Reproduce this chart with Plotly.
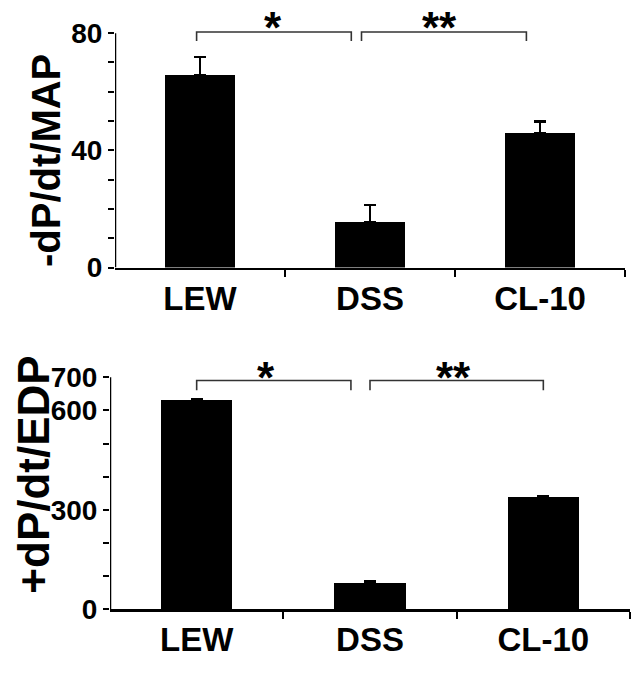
import plotly.graph_objects as go

categories = ["LEW", "DSS", "CL-10"]

# top panel: -dP/dt/MAP
top_values = [65.6, 15.6, 45.8]
top_errors = [6.2, 5.7, 4.0]
top_ticks = [0, 10, 20, 30, 40, 50, 60, 70, 80]
top_ticklabels = ["0", "", "", "", "40", "", "", "", "80"]

# bottom panel: +dP/dt/EDP
bot_values = [631, 80, 340]
bot_errors = [3, 4, 2]
bot_ticks = [0, 100, 200, 300, 400, 500, 600, 700]
bot_ticklabels = ["0", "", "", "300", "", "", "600", "700"]

W, H = 642, 676
FONT = "Liberation Sans, Arial, sans-serif"
NARROW = "Liberation Sans Narrow, Arial Narrow, Liberation Sans, sans-serif"
xs = list(range(len(categories)))

fig = go.Figure()
fig.add_trace(go.Bar(x=xs, y=top_values, width=0.41, marker=dict(color="black", line=dict(width=0)),
                     error_y=dict(type="data", symmetric=False, array=top_errors,
                                  arrayminus=[0, 0, 0], color="black", thickness=2.5, width=6),
                     xaxis="x", yaxis="y", showlegend=False, hoverinfo="skip"))
fig.add_trace(go.Bar(x=xs, y=bot_values, width=0.41, marker=dict(color="black", line=dict(width=0)),
                     error_y=dict(type="data", symmetric=False, array=bot_errors,
                                  arrayminus=[0, 0, 0], color="black", thickness=2, width=6),
                     xaxis="x2", yaxis="y2", showlegend=False, hoverinfo="skip"))

def px_x(p):
    return p / W

def px_y(p):
    return 1 - p / H

common_x = dict(tickmode="array", tickvals=xs, ticktext=categories, ticks="",
                showline=True, linecolor="black", linewidth=2.5, showgrid=False, zeroline=False,
                tickfont=dict(family=FONT, size=33, color="black", weight="bold"),
                minor=dict(tickmode="array", tickvals=[0.5, 1.5, 2.5], ticks="outside",
                           ticklen=7, tickwidth=2, tickcolor="black"),
                range=[-0.5, 2.5], fixedrange=True)
common_y = dict(tickmode="array", ticks="outside", ticklen=6, tickwidth=2, tickcolor="black",
                showline=False, showgrid=False, zeroline=False,
                tickfont=dict(family=FONT, size=28, color="black", weight="bold"), fixedrange=True)

fig.update_layout(
    width=W, height=H, margin=dict(l=0, r=0, t=0, b=0),
    paper_bgcolor="white", plot_bgcolor="white",
    bargap=0,
    xaxis=dict(common_x, domain=[px_x(115), px_x(625)], anchor="y"),
    yaxis=dict(common_y, domain=[px_y(274), px_y(4)], range=[0, 90], anchor="x",
               tickvals=top_ticks, ticktext=top_ticklabels),
    xaxis2=dict(common_x, domain=[px_x(110), px_x(630)], anchor="y2"),
    yaxis2=dict(common_y, domain=[px_y(624), px_y(366)], range=[0, 760], anchor="x2",
                tickvals=bot_ticks, ticktext=bot_ticklabels),
)

shapes = []
# y axis lines (drawn only up to the last tick)
shapes.append(dict(type="line", xref="x", yref="y", x0=-0.5, x1=-0.5, y0=0, y1=top_ticks[-1],
                   line=dict(color="black", width=2.5)))
shapes.append(dict(type="line", xref="x2", yref="y2", x0=-0.5, x1=-0.5, y0=0, y1=bot_ticks[-1],
                   line=dict(color="black", width=2.5)))

def bracket(xref, yref, xa, xb, ytop, drop):
    return dict(type="path", xref=xref, yref=yref,
                path=f"M {xa},{ytop - drop} L {xa},{ytop} L {xb},{ytop} L {xb},{ytop - drop}",
                line=dict(color="#333333", width=1.6))

shapes.append(bracket("x", "y", -0.02, 0.89, 80.4, 3.1))
shapes.append(bracket("x", "y", 0.95, 1.92, 80.4, 3.1))
shapes.append(bracket("x2", "y2", 0.0, 0.89, 690, 29))
shapes.append(bracket("x2", "y2", 1.0, 2.0, 690, 29))
fig.update_layout(shapes=shapes)

star_font = dict(family=FONT, size=44, color="black", weight="bold")
ann = [
    dict(xref="x", yref="y", x=0.43, y=82, text="*", showarrow=False, font=star_font, yanchor="middle"),
    dict(xref="x", yref="y", x=1.41, y=82, text="**", showarrow=False, font=star_font, yanchor="middle"),
    dict(xref="x2", yref="y2", x=0.40, y=698, text="*", showarrow=False, font=star_font, yanchor="middle"),
    dict(xref="x2", yref="y2", x=1.48, y=698, text="**", showarrow=False, font=star_font, yanchor="middle"),
    dict(xref="paper", yref="y", x=px_x(46), y=36.7, text="-dP/dt/MAP", textangle=-90, showarrow=False,
         font=dict(family=NARROW, size=40, color="black", weight="bold"), xanchor="center", yanchor="middle"),
    dict(xref="paper", yref="y2", x=px_x(34), y=406, text="+dP/dt/EDP", textangle=-90, showarrow=False,
         font=dict(family=FONT, size=44, color="black", weight="bold"), xanchor="center", yanchor="middle"),
]
fig.update_layout(annotations=ann)

fig.write_html("out.html", config={"displayModeBar": False, "staticPlot": True},
               post_script="document.body.style.margin='0';document.body.style.padding='0';")
